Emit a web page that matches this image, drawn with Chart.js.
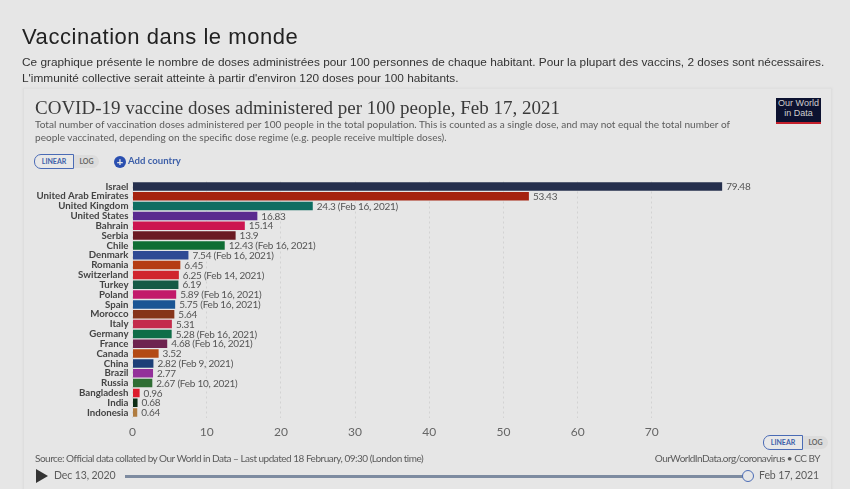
<!DOCTYPE html>
<html lang="fr">
<head>
<meta charset="utf-8">
<title>Vaccination dans le monde</title>
<script src="https://cdn.jsdelivr.net/npm/chart.js@4"></script>
<style>
html, body { margin: 0; padding: 0; background: #e6e6e6; width: 850px; height: 489px; overflow: hidden; }
body { position: relative; font-family: Lato, sans-serif; }
body div, body svg, body canvas { position: absolute; white-space: nowrap; }
#chart { left: 0; top: 0; }
#card { left: 23px; top: 88px; width: 807px; height: 401px; border: 1px solid #dedede; border-bottom: 0; border-top-color: #e0e0e0; box-shadow: 0 0 2px #d8d8d8; }
#heading { left: 22px; top: 24px; font: 22px "Liberation Sans", sans-serif; letter-spacing: .55px; color: #222; }
.intro { left: 22px; font: 11.83px "Liberation Sans", sans-serif; color: #333; }
#title { left: 35px; top: 97px; font: 19px "Liberation Serif", serif; letter-spacing: 0; color: #3a3a3a; }
.sub { left: 35px; font: 10.07px Lato, sans-serif; color: #5c5c5c; }
.toggle { height: 13px; background: #dcdcdc; border-radius: 7px; color: #666; font: bold 7px/13px Lato, sans-serif; }
.toggle span { display: inline-block; text-align: center; }
.toggle .on { border: 1px solid #4a6bb5; border-radius: 7px 0 0 7px; background: #e8e8e8; color: #3d5fa8; height: 13px; line-height: 13px; margin: -1px 0 0 -1px; width: 38px; }
#add { left: 128px; top: 155px; font: bold 9.6px Lato, sans-serif; color: #3d5fa8; }
#plus { left: 114px; top: 156px; width: 12px; height: 12px; background: #2a4fb0; border-radius: 50%; color: #e6e6e6; font: bold 11px/12px "Liberation Sans", sans-serif; text-align: center; }
#logo { left: 776px; top: 98px; width: 45px; height: 23px; background: #0c1230; border-bottom: 2px solid #c4202c; color: #cfcfcf; font: 9px/9.5px "Liberation Sans", sans-serif; text-align: center; padding-top: 1px; }
.foot { font: 10px Lato, sans-serif; letter-spacing: -.5px; color: #5c5c5c; }
.date { font: 10.5px Lato, sans-serif; letter-spacing: -.1px; color: #5c5c5c; }
#track { left: 125px; top: 475px; width: 620px; height: 3px; background: #7d8ba0; }
#knob { left: 742px; top: 470px; width: 10px; height: 10px; border: 1.5px solid #4a6bb5; border-radius: 50%; background: #e6e6e6; }
</style>
</head>
<body>
<div id="card"></div>
<canvas id="chart" width="850" height="489"></canvas>

<div id="heading">Vaccination dans le monde</div>
<div class="intro" style="top:55px">Ce graphique présente le nombre de doses administrées pour 100 personnes de chaque habitant. Pour la plupart des vaccins, 2 doses sont nécessaires.</div>
<div class="intro" style="top:71px">L'immunité collective serait atteinte à partir d'environ 120 doses pour 100 habitants.</div>

<div id="title">COVID-19 vaccine doses administered per 100 people, Feb 17, 2021</div>
<div class="sub" style="top:118px">Total number of vaccination doses administered per 100 people in the total population. This is counted as a single dose, and may not equal the total number of</div>
<div class="sub" style="top:131px">people vaccinated, depending on the specific dose regime (e.g. people receive multiple doses).</div>

<div class="toggle" style="left:35px;top:155px;width:64px"><span class="on">LINEAR</span><span style="width:25px">LOG</span></div>
<div id="plus">+</div>
<div id="add">Add country</div>
<div id="logo">Our World<br>in Data</div>

<div class="toggle" style="left:764px;top:436px;width:64px"><span class="on">LINEAR</span><span style="width:25px">LOG</span></div>
<div class="foot" style="left:35px;top:452px">Source: Official data collated by Our World in Data – Last updated 18 February, 09:30 (London time)</div>
<div class="foot" style="right:30px;top:452px">OurWorldInData.org/coronavirus • CC BY</div>

<svg style="left:36px;top:469px" width="12" height="14"><path d="M0 0 L12 7 L0 14 Z" fill="#333"/></svg>
<div class="date" style="left:54px;top:469px">Dec 13, 2020</div>
<div id="track"></div>
<div id="knob"></div>
<div class="date" style="left:759px;top:469px">Feb 17, 2021</div>

<script>
const countries = ['Israel', 'United Arab Emirates', 'United Kingdom', 'United States', 'Bahrain', 'Serbia', 'Chile', 'Denmark', 'Romania', 'Switzerland', 'Turkey', 'Poland', 'Spain', 'Morocco', 'Italy', 'Germany', 'France', 'Canada', 'China', 'Brazil', 'Russia', 'Bangladesh', 'India', 'Indonesia'];
const doses = [79.48, 53.43, 24.3, 16.83, 15.14, 13.9, 12.43, 7.54, 6.45, 6.25, 6.19, 5.89, 5.75, 5.64, 5.31, 5.28, 4.68, 3.52, 2.82, 2.77, 2.67, 0.96, 0.68, 0.64];
const dates = ['', '', 'Feb 16, 2021', '', '', '', 'Feb 16, 2021', 'Feb 16, 2021', '', 'Feb 14, 2021', '', 'Feb 16, 2021', 'Feb 16, 2021', '', '', 'Feb 16, 2021', 'Feb 16, 2021', '', 'Feb 9, 2021', '', 'Feb 10, 2021', '', '', ''];
const barColors = ['#252f4d', '#a5230f', '#0f6e62', '#5a2a8f', '#cc1450', '#6b1a22', '#0f6e34', '#2f4a94', '#b53c12', '#d0242e', '#145a45', '#c21a6a', '#1a5594', '#86341a', '#c42c4c', '#0f6e48', '#6e2450', '#b34a14', '#1c3f78', '#93309a', '#2f6e34', '#dc1c2c', '#0c2c14', '#b07c40'];
const xTicks = [0, 10, 20, 30, 40, 50, 60, 70];

// value + date text at the end of each bar
const barLabels = {
    id: 'barLabels',
    afterDatasetsDraw(chart) {
        const ctx = chart.ctx;
        const bars = chart.getDatasetMeta(0).data;
        ctx.save();
        ctx.font = '10px Lato, sans-serif';
        ctx.letterSpacing = '-0.25px';
        ctx.fillStyle = '#555';
        ctx.textAlign = 'left';
        ctx.textBaseline = 'middle';
        bars.forEach((bar, i) => {
            const note = dates[i] ? ' (' + dates[i] + ')' : '';
            ctx.fillText(doses[i] + note, bar.x + 4, bar.y + 0.5);
        });
        ctx.restore();
    }
};

new Chart(document.getElementById('chart').getContext('2d'), {
    type: 'bar',
    data: {
        labels: countries,
        datasets: [{
            data: doses,
            backgroundColor: barColors,
            barPercentage: 0.86,
            categoryPercentage: 1
        }]
    },
    options: {
        indexAxis: 'y',
        responsive: false,
        animation: false,
        devicePixelRatio: 1,
        layout: { padding: { left: 0, top: 181.5, right: 124, bottom: 41.5 } },
        scales: {
            x: {
                min: 0,
                max: 80,
                afterFit: s => { s.height = 30; },
                afterBuildTicks: s => { s.ticks = xTicks.map(v => ({ value: v })); },
                grid: { color: '#d2d2d2', drawTicks: false },
                border: { display: false, dash: [2, 3] },
                ticks: { color: '#666', font: { family: 'Lato', size: 12 }, padding: 7, maxRotation: 0 }
            },
            y: {
                afterFit: s => { s.width = 132.5; },
                grid: { display: false, drawTicks: false },
                border: { display: false },
                ticks: { autoSkip: false, color: '#444', font: { family: 'Lato', size: 9.7, weight: 'bold' }, padding: 4 }
            }
        },
        plugins: {
            legend: { display: false },
            tooltip: { enabled: false }
        }
    },
    plugins: [barLabels]
});
</script>
</body>
</html>
